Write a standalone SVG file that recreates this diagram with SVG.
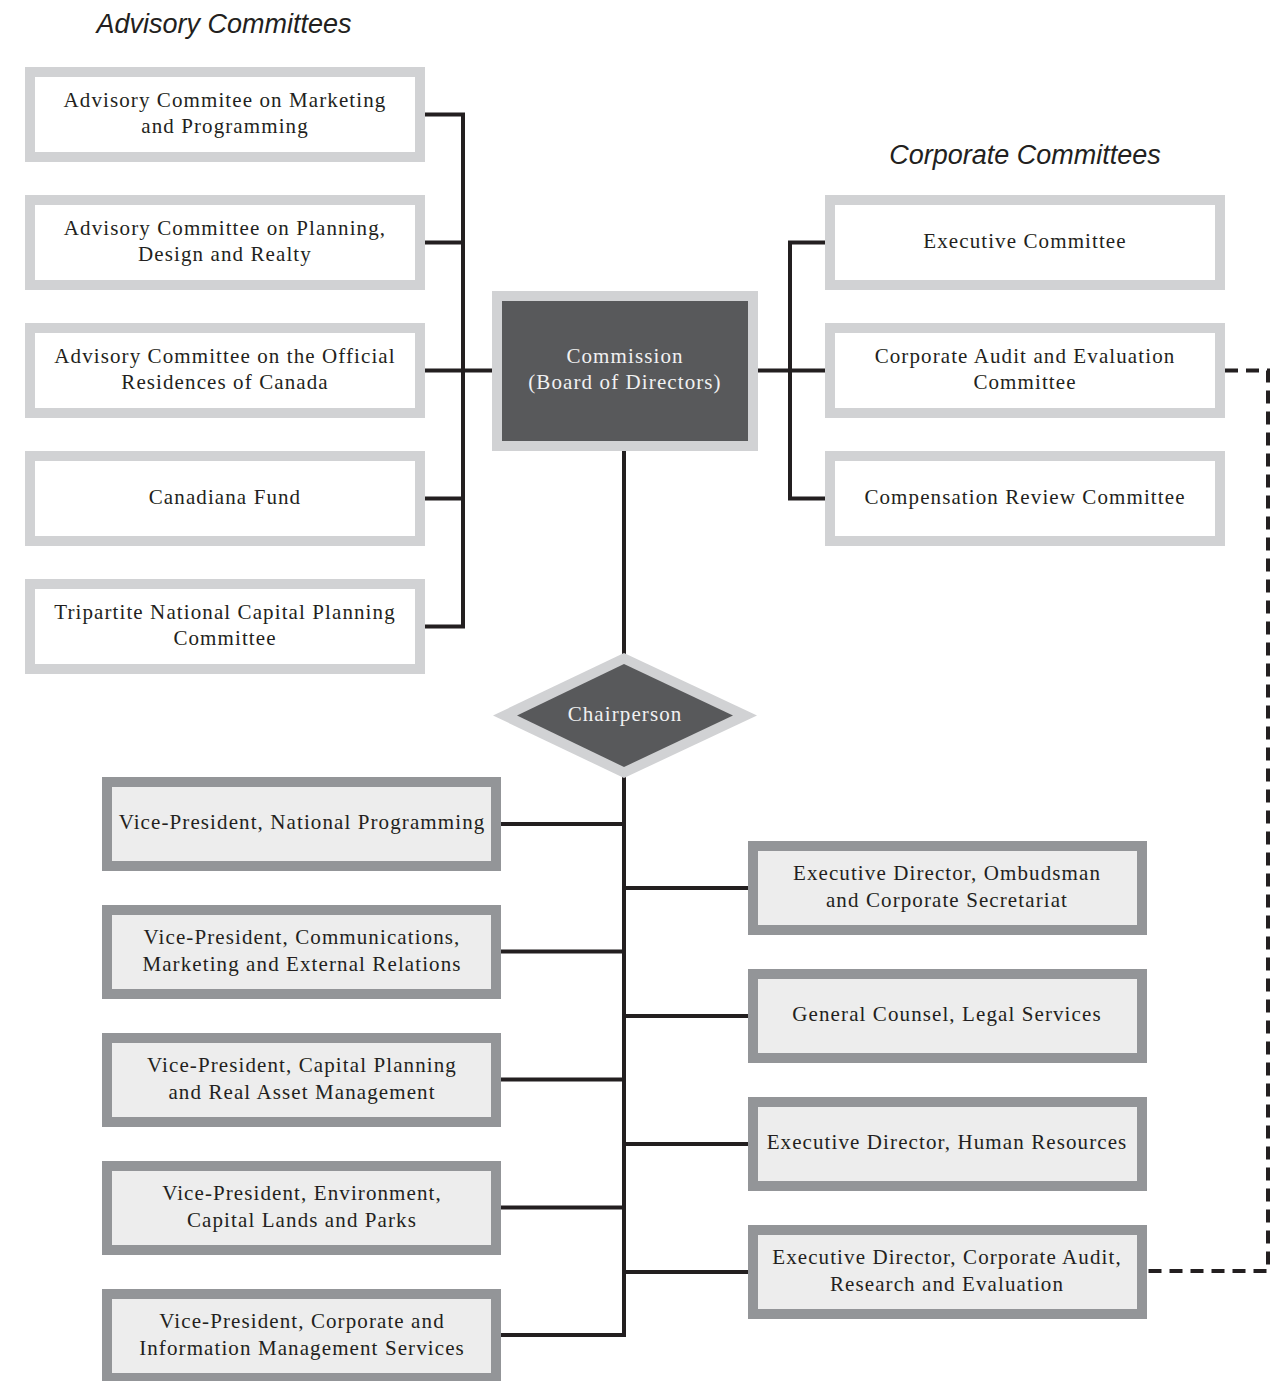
<svg xmlns="http://www.w3.org/2000/svg" width="1284" height="1381" viewBox="0 0 1284 1381">
<style>
.adv{fill:#ffffff;stroke:#d1d2d4;stroke-width:10}
.org{fill:#ededed;stroke:#939598;stroke-width:10}
.dark{fill:#58595b;stroke:#d1d2d4;stroke-width:10}
.t{font-family:"Liberation Serif","Times New Roman",serif;font-size:21px;letter-spacing:1.1px;fill:#231f20;text-anchor:middle}
.tw{font-family:"Liberation Serif","Times New Roman",serif;font-size:21px;letter-spacing:1.1px;fill:#f1f1f2;text-anchor:middle}
.h{font-family:"Liberation Sans",Arial,sans-serif;font-style:italic;font-size:27px;fill:#231f20;text-anchor:middle}
.ln{fill:none;stroke:#231f20;stroke-width:4}
.dash{fill:none;stroke:#231f20;stroke-width:4;stroke-dasharray:13 8}
</style>
<rect width="1284" height="1381" fill="#ffffff"/>
<text class="h" x="224" y="33">Advisory Committees</text>
<text class="h" x="1025" y="164">Corporate Committees</text>
<g id="connectors">
<path class="ln" d="M425,114.5H463V626.5H425M425,242.5H463M425,370.5H492M425,498.5H463"/>
<path class="ln" d="M758,370.5H825M825,242.5H790V498.5H825"/>
<path class="ln" d="M624,451V655M624,777V1335H501M501,824H624M501,951.5H624M501,1079.5H624M501,1207.5H624M624,888H748M624,1016H748M624,1144H748M624,1272H748"/>
<path class="dash" d="M1225,370.5H1268V1271H1147"/>
</g>
<g id="adv1"><rect class="adv" x="30" y="72" width="390" height="85"/><text class="t" x="225" y="107">Advisory Commitee on Marketing</text><text class="t" x="225" y="133">and Programming</text></g>
<g id="adv2"><rect class="adv" x="30" y="200" width="390" height="85"/><text class="t" x="225" y="235">Advisory Committee on Planning,</text><text class="t" x="225" y="261">Design and Realty</text></g>
<g id="adv3"><rect class="adv" x="30" y="328" width="390" height="85"/><text class="t" x="225" y="363">Advisory Committee on the Official</text><text class="t" x="225" y="389">Residences of Canada</text></g>
<g id="adv4"><rect class="adv" x="30" y="456" width="390" height="85"/><text class="t" x="225" y="504">Canadiana Fund</text></g>
<g id="adv5"><rect class="adv" x="30" y="584" width="390" height="85"/><text class="t" x="225" y="619">Tripartite National Capital Planning</text><text class="t" x="225" y="645">Committee</text></g>
<g id="commission"><rect class="dark" x="497" y="296" width="256" height="150"/><text class="tw" x="625" y="363">Commission</text><text class="tw" x="625" y="389">(Board of Directors)</text></g>
<g id="corp1"><rect class="adv" x="830" y="200" width="390" height="85"/><text class="t" x="1025" y="248">Executive Committee</text></g>
<g id="corp2"><rect class="adv" x="830" y="328" width="390" height="85"/><text class="t" x="1025" y="363">Corporate Audit and Evaluation</text><text class="t" x="1025" y="389">Committee</text></g>
<g id="corp3"><rect class="adv" x="830" y="456" width="390" height="85"/><text class="t" x="1025" y="504">Compensation Review Committee</text></g>
<g id="chair"><polygon points="624,653 757,715.5 624,778 493,715.5" fill="#d1d2d4"/><polygon points="624,664 733,715.5 624,767 517,715.5" fill="#58595b"/><text class="tw" x="625" y="721">Chairperson</text></g>
<g id="vp1"><rect class="org" x="107" y="782" width="389" height="84"/><text class="t" x="302" y="829">Vice-President, National Programming</text></g>
<g id="vp2"><rect class="org" x="107" y="910" width="389" height="84"/><text class="t" x="302" y="944">Vice-President, Communications,</text><text class="t" x="302" y="971">Marketing and External Relations</text></g>
<g id="vp3"><rect class="org" x="107" y="1038" width="389" height="84"/><text class="t" x="302" y="1072">Vice-President, Capital Planning</text><text class="t" x="302" y="1099">and Real Asset Management</text></g>
<g id="vp4"><rect class="org" x="107" y="1166" width="389" height="84"/><text class="t" x="302" y="1200">Vice-President, Environment,</text><text class="t" x="302" y="1227">Capital Lands and Parks</text></g>
<g id="vp5"><rect class="org" x="107" y="1294" width="389" height="84"/><text class="t" x="302" y="1328">Vice-President, Corporate and</text><text class="t" x="302" y="1355">Information Management Services</text></g>
<g id="ed1"><rect class="org" x="753" y="846" width="389" height="84"/><text class="t" x="947" y="880">Executive Director, Ombudsman</text><text class="t" x="947" y="907">and Corporate Secretariat</text></g>
<g id="ed2"><rect class="org" x="753" y="974" width="389" height="84"/><text class="t" x="947" y="1021">General Counsel, Legal Services</text></g>
<g id="ed3"><rect class="org" x="753" y="1102" width="389" height="84"/><text class="t" x="947" y="1149">Executive Director, Human Resources</text></g>
<g id="ed4"><rect class="org" x="753" y="1230" width="389" height="84"/><text class="t" x="947" y="1264">Executive Director, Corporate Audit,</text><text class="t" x="947" y="1291">Research and Evaluation</text></g>
</svg>
